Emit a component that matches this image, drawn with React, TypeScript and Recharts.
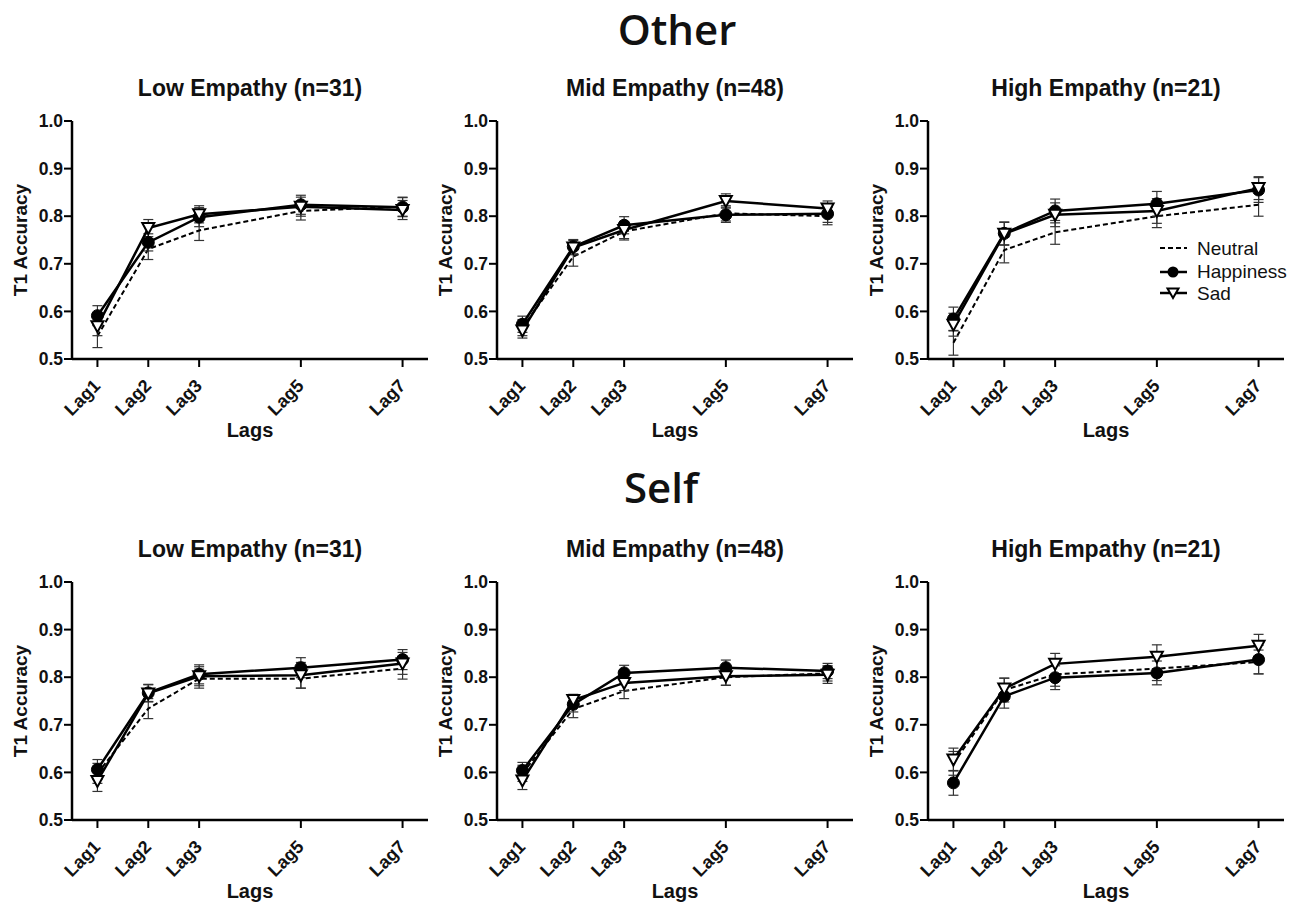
import React from 'react';
import { LineChart, Line, XAxis, YAxis, ErrorBar, Legend } from 'recharts';

const lags = [1, 2, 3, 5, 7];
const lagLabels = ['Lag1', 'Lag2', 'Lag3', 'Lag5', 'Lag7'];
const yTicks = [0.5, 0.6, 0.7, 0.8, 0.9, 1.0];
const seriesNames = ['Neutral', 'Happiness', 'Sad'];
const sectionTitles = ['Other', 'Self'];
const panelTitles = ['Low Empathy (n=31)', 'Mid Empathy (n=48)', 'High Empathy (n=21)'];

// ---- Other ----
const otherLowNeutral = [0.548, 0.731, 0.77, 0.811, 0.82];
const otherLowNeutralErr = [0.024, 0.022, 0.021, 0.019, 0.02];
const otherLowHappy = [0.591, 0.745, 0.798, 0.824, 0.819];
const otherLowHappyErr = [0.021, 0.018, 0.02, 0.02, 0.02];
const otherLowSad = [0.569, 0.775, 0.804, 0.82, 0.813];
const otherLowSadErr = [0.02, 0.018, 0.018, 0.02, 0.02];

const otherMidNeutral = [0.566, 0.715, 0.768, 0.806, 0.8];
const otherMidNeutralErr = [0.017, 0.02, 0.018, 0.016, 0.018];
const otherMidHappy = [0.573, 0.736, 0.781, 0.803, 0.805];
const otherMidHappyErr = [0.017, 0.015, 0.018, 0.016, 0.018];
const otherMidSad = [0.56, 0.734, 0.771, 0.832, 0.816];
const otherMidSadErr = [0.016, 0.015, 0.018, 0.015, 0.016];

const otherHighNeutral = [0.534, 0.729, 0.766, 0.8, 0.824];
const otherHighNeutralErr = [0.026, 0.027, 0.025, 0.024, 0.024];
const otherHighHappy = [0.584, 0.764, 0.811, 0.826, 0.855];
const otherHighHappyErr = [0.025, 0.024, 0.025, 0.026, 0.026];
const otherHighSad = [0.572, 0.763, 0.803, 0.811, 0.859];
const otherHighSadErr = [0.024, 0.024, 0.025, 0.026, 0.024];

// ---- Self ----
const selfLowNeutral = [0.598, 0.734, 0.797, 0.797, 0.818];
const selfLowNeutralErr = [0.021, 0.021, 0.02, 0.02, 0.022];
const selfLowHappy = [0.606, 0.767, 0.806, 0.82, 0.837];
const selfLowHappyErr = [0.021, 0.018, 0.02, 0.021, 0.021];
const selfLowSad = [0.582, 0.766, 0.802, 0.804, 0.829];
const selfLowSadErr = [0.022, 0.018, 0.02, 0.027, 0.023];

const selfMidNeutral = [0.598, 0.733, 0.771, 0.8, 0.808];
const selfMidNeutralErr = [0.017, 0.018, 0.016, 0.017, 0.016];
const selfMidHappy = [0.604, 0.743, 0.809, 0.82, 0.813];
const selfMidHappyErr = [0.017, 0.016, 0.016, 0.016, 0.016];
const selfMidSad = [0.583, 0.752, 0.788, 0.802, 0.805];
const selfMidSadErr = [0.019, 0.012, 0.016, 0.019, 0.018];

const selfHighNeutral = [0.619, 0.773, 0.806, 0.818, 0.832];
const selfHighNeutralErr = [0.025, 0.025, 0.025, 0.025, 0.025];
const selfHighHappy = [0.578, 0.76, 0.799, 0.809, 0.837];
const selfHighHappyErr = [0.026, 0.025, 0.025, 0.025, 0.03];
const selfHighSad = [0.627, 0.776, 0.828, 0.843, 0.866];
const selfHighSadErr = [0.024, 0.022, 0.022, 0.025, 0.024];

const FONT = '"Liberation Sans", Arial, Helvetica, sans-serif';
const INK = '#111';

function makeRows(n: number[], ne: number[], h: number[], he: number[], s: number[], se: number[]) {
  return lags.map((lag, i) => ({
    lag,
    label: lagLabels[i],
    neutral: n[i],
    neutralErr: ne[i],
    happy: h[i],
    happyErr: he[i],
    sad: s[i],
    sadErr: se[i],
  }));
}

const AXIS_X = [72, 497, 928];
const PLOT_TOP = [121, 582];
const PLOT_W = 356;
const PLOT_H = 238;
const M_TOP = 40;
const M_LEFT = 12;
const Y_W = 60;

const panels = [
  { row: 0, col: 0, rows: makeRows(otherLowNeutral, otherLowNeutralErr, otherLowHappy, otherLowHappyErr, otherLowSad, otherLowSadErr) },
  { row: 0, col: 1, rows: makeRows(otherMidNeutral, otherMidNeutralErr, otherMidHappy, otherMidHappyErr, otherMidSad, otherMidSadErr) },
  { row: 0, col: 2, rows: makeRows(otherHighNeutral, otherHighNeutralErr, otherHighHappy, otherHighHappyErr, otherHighSad, otherHighSadErr), legend: true },
  { row: 1, col: 0, rows: makeRows(selfLowNeutral, selfLowNeutralErr, selfLowHappy, selfLowHappyErr, selfLowSad, selfLowSadErr) },
  { row: 1, col: 1, rows: makeRows(selfMidNeutral, selfMidNeutralErr, selfMidHappy, selfMidHappyErr, selfMidSad, selfMidSadErr) },
  { row: 1, col: 2, rows: makeRows(selfHighNeutral, selfHighNeutralErr, selfHighHappy, selfHighHappyErr, selfHighSad, selfHighSadErr) },
];

const LagTick = (props: any) => {
  const { x, y, payload } = props;
  const idx = lags.indexOf(payload.value);
  const text = idx >= 0 ? lagLabels[idx] : String(payload.value);
  return (
    <g transform={`translate(${x + 4},${y + 18}) rotate(-45)`}>
      <text x={0} y={0} textAnchor="end" fontSize={18} fontWeight="bold" fill={INK} fontFamily={FONT}>
        {text}
      </text>
    </g>
  );
};

const SadDot = (props: any) => {
  const { cx, cy, index } = props;
  if (cx == null || cy == null) return <g key={`sd-${index}`} />;
  return (
    <path
      key={`sd-${index}`}
      d={`M${cx - 6},${cy - 5} L${cx + 6},${cy - 5} L${cx},${cy + 6} Z`}
      fill="#fff"
      stroke="#000"
      strokeWidth={2}
      strokeLinejoin="miter"
    />
  );
};

const YLabel = (props: any) => {
  const vb = props.viewBox || {};
  const cy = (vb.y ?? M_TOP) + (vb.height ?? PLOT_H) / 2;
  return (
    <text
      transform={`translate(27,${cy}) rotate(-90)`}
      textAnchor="middle"
      fontSize={19}
      fontWeight="bold"
      fill={INK}
      fontFamily={FONT}
    >
      T1 Accuracy
    </text>
  );
};

const XLabel = (props: any) => {
  const vb = props.viewBox || {};
  const cx = (vb.x ?? Y_W + M_LEFT) + (vb.width ?? PLOT_W) / 2;
  return (
    <text x={cx} y={M_TOP + PLOT_H + 78} textAnchor="middle" fontSize={20} fontWeight="bold" fill={INK} fontFamily={FONT}>
      Lags
    </text>
  );
};

const LegendBox = () => (
  <svg width={150} height={70} style={{ overflow: 'visible' }}>
    <line x1={4} y1={7} x2={31} y2={7} stroke="#000" strokeWidth={2} strokeDasharray="5 3" />
    <text x={41} y={14} fontSize={19} fill={INK} fontFamily={FONT}>{seriesNames[0]}</text>
    <line x1={4} y1={31} x2={31} y2={31} stroke="#000" strokeWidth={2.5} />
    <circle cx={17} cy={31} r={5.5} fill="#000" />
    <text x={41} y={37} fontSize={19} fill={INK} fontFamily={FONT}>{seriesNames[1]}</text>
    <line x1={4} y1={52} x2={31} y2={52} stroke="#000" strokeWidth={2.5} />
    <path d="M11.5,47.5 L22.5,47.5 L17,57 Z" fill="#fff" stroke="#000" strokeWidth={2} />
    <text x={41} y={59} fontSize={19} fill={INK} fontFamily={FONT}>{seriesNames[2]}</text>
  </svg>
);

const axisLine = { stroke: '#000', strokeWidth: 2.5 };
const tickLine = { stroke: '#000', strokeWidth: 2 };

function Panel({ p }: { p: any }) {
  const left = AXIS_X[p.col] - Y_W - M_LEFT;
  const top = PLOT_TOP[p.row] - M_TOP;
  const width = M_LEFT + Y_W + PLOT_W + 12;
  const height = M_TOP + PLOT_H + 80 + 10;
  return (
    <div style={{ position: 'absolute', left, top, width, height }}>
      <LineChart width={width} height={height} data={p.rows} margin={{ top: M_TOP, right: 12, bottom: 10, left: M_LEFT }}>
        <XAxis
          dataKey="lag"
          type="number"
          domain={[0.5, 7.5]}
          ticks={lags}
          interval={0}
          tick={<LagTick />}
          tickSize={8}
          height={80}
          axisLine={axisLine}
          tickLine={tickLine}
          allowDataOverflow
          label={<XLabel />}
        />
        <YAxis
          type="number"
          domain={[0.5, 1.0]}
          ticks={yTicks}
          interval={0}
          tickFormatter={(v: number) => v.toFixed(1)}
          tick={{ fontSize: 17.5, fontWeight: 'bold', fill: INK, fontFamily: FONT }}
          tickSize={8}
          tickMargin={1}
          width={Y_W}
          axisLine={axisLine}
          tickLine={tickLine}
          allowDataOverflow
          label={<YLabel />}
        />
        {p.legend && (
          <Legend
            layout="vertical"
            align="center"
            verticalAlign="middle"
            content={<LegendBox />}
            wrapperStyle={{ position: 'absolute', left: 300, top: 160, width: 150, height: 70 }}
          />
        )}
        <Line
          dataKey="neutral"
          name={seriesNames[0]}
          stroke="#000"
          strokeWidth={2}
          strokeDasharray="5 3"
          dot={false}
          activeDot={false}
          isAnimationActive={false}
        >
          <ErrorBar dataKey="neutralErr" direction="y" width={5} stroke="#333" strokeWidth={1.2} />
        </Line>
        <Line
          dataKey="happy"
          name={seriesNames[1]}
          stroke="#000"
          strokeWidth={2.5}
          dot={{ r: 6, fill: '#000', stroke: '#000', strokeWidth: 1 }}
          activeDot={false}
          isAnimationActive={false}
        >
          <ErrorBar dataKey="happyErr" direction="y" width={5} stroke="#333" strokeWidth={1.2} />
        </Line>
        <Line
          dataKey="sad"
          name={seriesNames[2]}
          stroke="#000"
          strokeWidth={2.5}
          dot={<SadDot />}
          activeDot={false}
          isAnimationActive={false}
        >
          <ErrorBar dataKey="sadErr" direction="y" width={5} stroke="#333" strokeWidth={1.2} />
        </Line>
      </LineChart>
    </div>
  );
}

export default function App() {
  return (
    <div style={{ position: 'absolute', left: 0, top: 0, width: 1299, height: 906, background: '#fff', overflow: 'hidden' }}>
      <svg width={1299} height={906} style={{ position: 'absolute', left: 0, top: 0 }}>
        <text x={677} y={45} textAnchor="middle" fontSize={42} fontWeight={600} fill={INK} fontFamily='"Open Sans", "Noto Sans", sans-serif'>
          {sectionTitles[0]}
        </text>
        <text x={661} y={503} textAnchor="middle" fontSize={42} fontWeight={600} fill={INK} fontFamily='"Open Sans", "Noto Sans", sans-serif'>
          {sectionTitles[1]}
        </text>
        {[0, 1].map((r) =>
          AXIS_X.map((ax, c) => (
            <text
              key={`t-${r}-${c}`}
              x={ax + PLOT_W / 2}
              y={PLOT_TOP[r] - 25}
              textAnchor="middle"
              fontSize={23}
              fontWeight="bold"
              fill={INK}
              fontFamily={FONT}
            >
              {panelTitles[c]}
            </text>
          ))
        )}
      </svg>
      {panels.map((p, i) => (
        <Panel key={i} p={p} />
      ))}
    </div>
  );
}
